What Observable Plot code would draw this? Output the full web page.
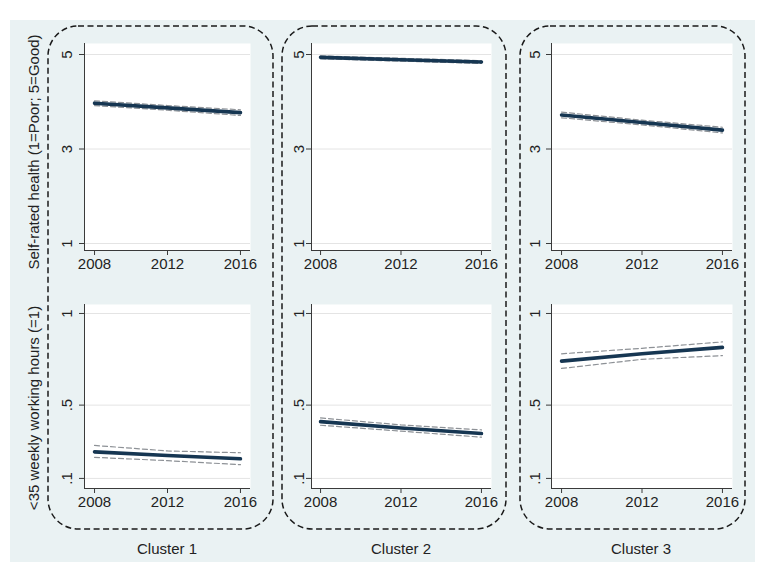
<!DOCTYPE html>
<html>
<head>
<meta charset="utf-8">
<script src="https://cdn.jsdelivr.net/npm/d3@7"></script>
<script src="https://cdn.jsdelivr.net/npm/@observablehq/plot@0.6"></script>
<style>
  html, body { margin: 0; padding: 0; background: #ffffff; }
  #root { position: relative; width: 765px; height: 570px; overflow: hidden; background: #ffffff;
          font-family: "Liberation Sans", Arial, sans-serif; color: #222; }
  #bg { position: absolute; left: 10px; top: 20px; width: 745px; height: 542px; background: #eaf2f3; }
  .panel { position: absolute; }
  .ytitle { position: absolute; white-space: nowrap; font-size: 15px; transform: translate(-50%, -50%) rotate(-90deg); }
  .ctitle { position: absolute; white-space: nowrap; font-size: 15px; transform: translate(-50%, -50%); }
</style>
</head>
<body>
<div id="root"><div id="bg"></div></div>
<script>
// ---- data ----
const years = [2008, 2012, 2016];
const clusters = ["Cluster 1", "Cluster 2", "Cluster 3"];
const measureTitles = ["Self-rated health (1=Poor; 5=Good)", "<35 weekly working hours (=1)"];

const srhEst = [[3.97, 3.87, 3.77], [4.94, 4.89, 4.84], [3.72, 3.56, 3.40]];
const srhLo  = [[3.92, 3.82, 3.71], [4.91, 4.86, 4.81], [3.66, 3.51, 3.34]];
const srhHi  = [[4.02, 3.92, 3.83], [4.97, 4.92, 4.87], [3.78, 3.61, 3.46]];

const hrsEst = [[0.245, 0.225, 0.207], [0.41, 0.375, 0.345], [0.74, 0.78, 0.815]];
const hrsLo  = [[0.215, 0.197, 0.175], [0.39, 0.358, 0.325], [0.70, 0.75, 0.77]];
const hrsHi  = [[0.28, 0.25, 0.24], [0.43, 0.392, 0.365], [0.78, 0.81, 0.845]];

const yearTicks = [2008, 2012, 2016];
const srhTicks = [1, 3, 5];
const srhTickLabels = ["1", "3", "5"];
const hrsTicks = [0.1, 0.5, 1];
const hrsTickLabels = [".1", ".5", "1"];

// ---- scale / layout config ----
const srhDomain = [0.852, 5.233];
const hrsDomain = [0.045, 1.049];
const xDomains = [[2007.45, 2016.55], [2007.55, 2016.5], [2007.5, 2016.5]];

const cols = [
  {left: 10, width: 255, marginLeft: 74, marginRight: 15, pad: 8},
  {left: 271, width: 234, marginLeft: 40, marginRight: 14, pad: 3},
  {left: 511, width: 234, marginLeft: 40, marginRight: 13, pad: 7}
];
const rows = [
  {top: 30, height: 250, marginTop: 13, marginBottom: 30, domain: srhDomain, ticks: srhTicks, labels: srhTickLabels, est: srhEst, lo: srhLo, hi: srhHi},
  {top: 290, height: 228, marginTop: 14, marginBottom: 30, domain: hrsDomain, ticks: hrsTicks, labels: hrsTickLabels, est: hrsEst, lo: hrsLo, hi: hrsHi}
];

const root = document.getElementById("root");

// dashed rounded boxes around each cluster column
const boxes = [
  {x: 48, y: 26, w: 225, h: 503},
  {x: 282, y: 26, w: 224, h: 503},
  {x: 520, y: 26, w: 225, h: 503}
];
const overlay = d3.select(root).append("svg")
  .attr("width", 765).attr("height", 570)
  .style("position", "absolute").style("left", "0px").style("top", "0px");
overlay.selectAll("rect").data(boxes).join("rect")
  .attr("x", d => d.x).attr("y", d => d.y)
  .attr("width", d => d.w).attr("height", d => d.h)
  .attr("rx", 30).attr("ry", 30)
  .attr("fill", "none").attr("stroke", "#1a1a1a")
  .attr("stroke-width", 1.5).attr("stroke-dasharray", "6,3.5");

rows.forEach((row, ri) => {
  cols.forEach((col, ci) => {
    const data = years.map((yr, k) => ({year: yr, est: row.est[ci][k], lo: row.lo[ci][k], hi: row.hi[ci][k]}));
    const labelMap = new Map(row.ticks.map((t, k) => [t, row.labels[k]]));
    const chart = Plot.plot({
      width: col.width,
      height: row.height,
      marginLeft: col.marginLeft,
      marginRight: col.marginRight,
      marginTop: row.marginTop,
      marginBottom: row.marginBottom,
      x: {domain: xDomains[ci]},
      y: {domain: row.domain},
      style: {background: "transparent", fontFamily: "'Liberation Sans', Arial, sans-serif", fontSize: "15px", color: "#222", overflow: "visible"},
      marks: [
        Plot.frame({fill: "white", stroke: null}),
        Plot.gridY(row.ticks, {stroke: "#e4e4e4", strokeOpacity: 1, strokeWidth: 1}),
        Plot.line(data, {x: "year", y: "lo", stroke: "#8d9196", strokeWidth: 1.2, strokeDasharray: "5,3"}),
        Plot.line(data, {x: "year", y: "hi", stroke: "#8d9196", strokeWidth: 1.2, strokeDasharray: "5,3"}),
        Plot.line(data, {x: "year", y: "est", stroke: "#163652", strokeWidth: 3.6}),
        Plot.ruleX([xDomains[ci][0]], {stroke: "#3a3a3a", strokeWidth: 1}),
        Plot.ruleY([row.domain[0]], {stroke: "#3a3a3a", strokeWidth: 1}),
        Plot.axisX(yearTicks, {tickSize: 5, tickPadding: 3, stroke: "#3a3a3a", fill: "#222", tickFormat: d => String(d), label: null}),
        Plot.axisY(row.ticks, {tickSize: 5, tickRotate: -90, tickPadding: col.pad, stroke: "#3a3a3a", fill: "#222", tickFormat: d => labelMap.get(d), label: null})
      ]
    });
    const holder = document.createElement("div");
    holder.className = "panel";
    holder.style.left = col.left + "px";
    holder.style.top = row.top + "px";
    holder.appendChild(chart);
    root.appendChild(holder);
  });
});

// y-axis titles
const titlePos = [{x: 33, y: 152}, {x: 33, y: 408}];
measureTitles.forEach((t, i) => {
  const d = document.createElement("div");
  d.className = "ytitle";
  d.textContent = t;
  d.style.left = titlePos[i].x + "px";
  d.style.top = titlePos[i].y + "px";
  root.appendChild(d);
});

// cluster titles
const clusterX = [167, 401, 641];
clusters.forEach((c, i) => {
  const d = document.createElement("div");
  d.className = "ctitle";
  d.textContent = c;
  d.style.left = clusterX[i] + "px";
  d.style.top = "548px";
  root.appendChild(d);
});
</script>
</body>
</html>
